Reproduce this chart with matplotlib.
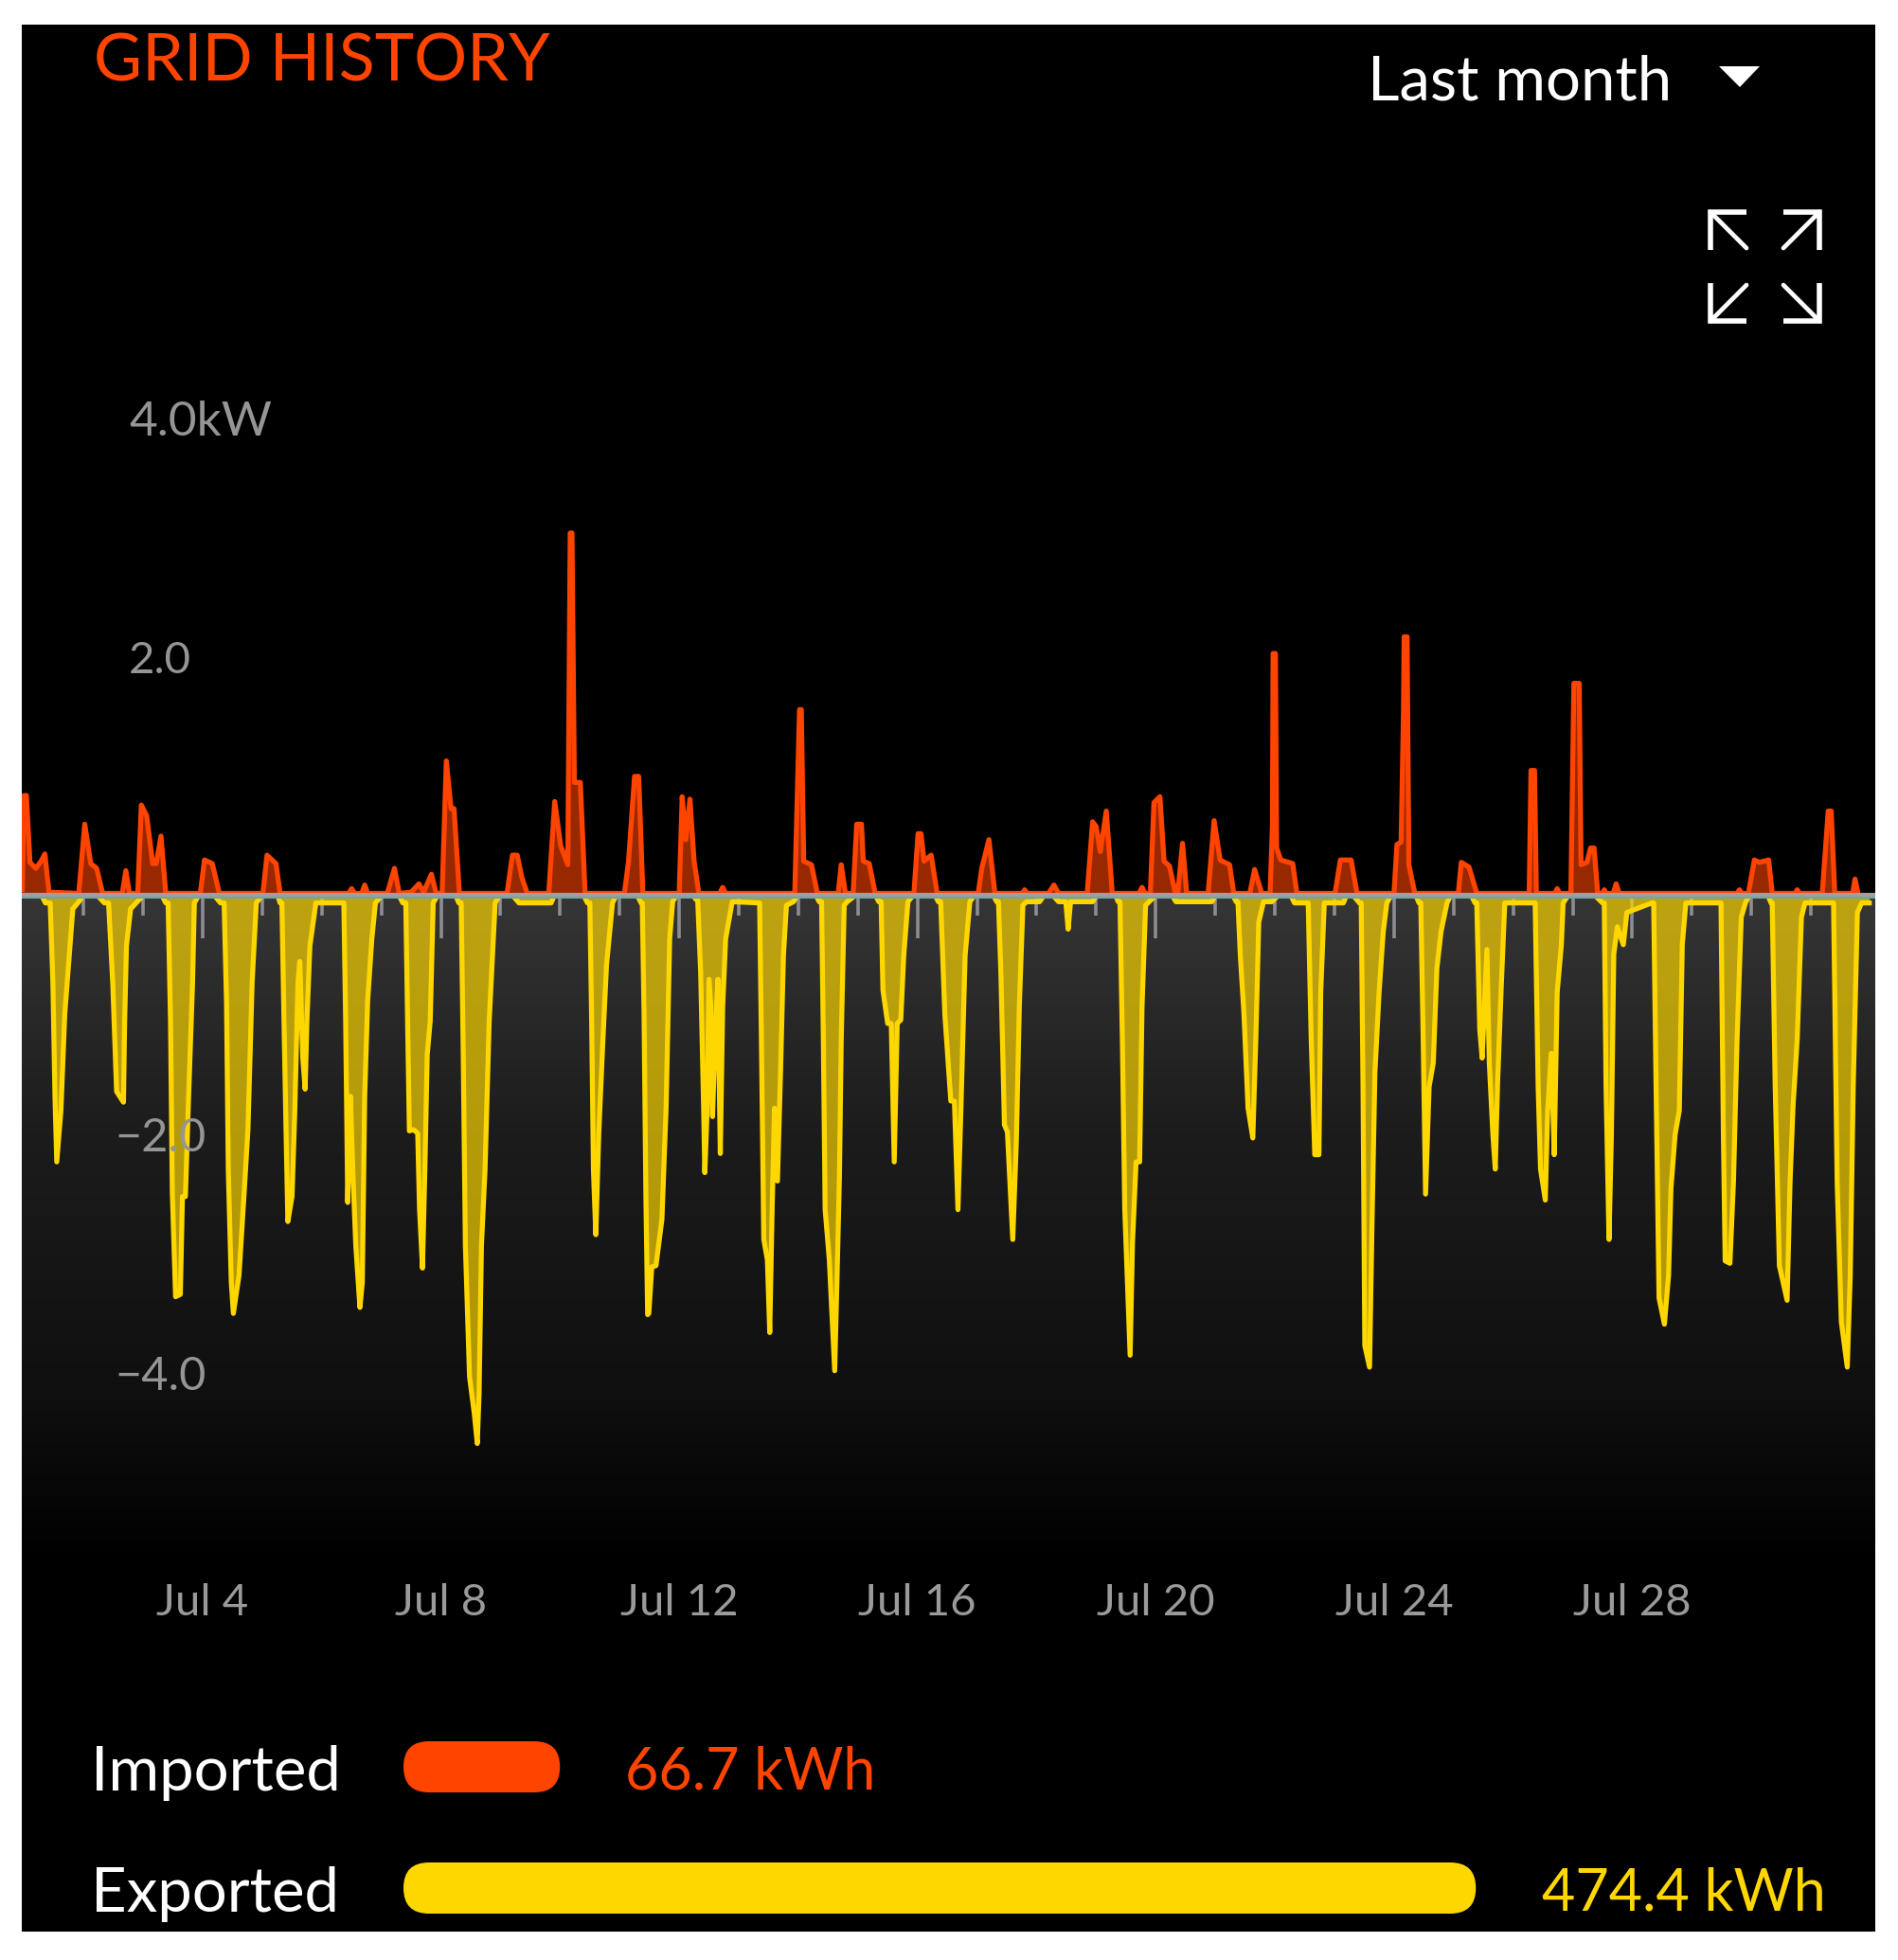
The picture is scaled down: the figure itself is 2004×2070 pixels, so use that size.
import numpy as np
import matplotlib
matplotlib.use("Agg")
import matplotlib.pyplot as plt
from matplotlib.patches import FancyBboxPatch, Polygon

plt.rcParams['font.family'] = ['Lato', 'DejaVu Sans']

# grid power over the month, day of July vs kW (negative = exported)
export_days = [
    0.97, 1.30, 1.36,
    1.44, 1.485, 1.52, 1.55, 1.62, 1.685, 1.82, 1.92,
    1.99, 2.24, 2.35,
    2.42, 2.49, 2.555, 2.67, 2.69, 2.72, 2.79, 2.92,
    3.00, 3.32, 3.38,
    3.42, 3.46, 3.49, 3.545, 3.625, 3.66, 3.71, 3.76, 3.83, 3.86,
    3.93, 4.20, 4.30,
    4.36, 4.40, 4.43, 4.48, 4.515, 4.61, 4.70, 4.76, 4.83, 4.90,
    4.99, 5.26, 5.30,
    5.33, 5.365, 5.40, 5.43, 5.50, 5.545, 5.60, 5.63, 5.68, 5.72, 5.75, 5.80, 5.90,
    6.33,
    6.37, 6.40, 6.435, 6.48, 6.52, 6.57, 6.64, 6.68, 6.72, 6.77, 6.84, 6.90,
    7.00, 7.30, 7.36,
    7.41, 7.44, 7.47, 7.54, 7.61, 7.64, 7.69, 7.73, 7.77, 7.82, 7.87,
    7.94, 8.25, 8.30,
    8.34, 8.375, 8.41, 8.48, 8.56, 8.61, 8.64, 8.68, 8.74, 8.81, 8.91,
    8.98, 9.21, 9.31, 9.85,
    9.90, 10.40, 10.46,
    10.50, 10.53, 10.56, 10.60, 10.65, 10.72, 10.78, 10.88,
    10.94, 11.30, 11.36,
    11.38, 11.41, 11.44, 11.47, 11.49, 11.54, 11.61, 11.71, 11.78, 11.84, 11.89,
    11.95, 12.24, 12.28,
    12.31, 12.36, 12.41, 12.43, 12.47, 12.50, 12.53, 12.56, 12.60, 12.65, 12.67, 12.69, 12.73, 12.78, 12.89,
    13.32,
    13.35, 13.38, 13.42, 13.48, 13.52, 13.56, 13.60, 13.65, 13.70, 13.75, 13.80, 13.92,
    13.98, 14.30, 14.35,
    14.39, 14.42, 14.45, 14.52, 14.61, 14.65, 14.69, 14.72, 14.77, 14.82,
    14.95, 15.30, 15.35,
    15.39, 15.42, 15.50, 15.56, 15.61, 15.66, 15.72, 15.77, 15.84,
    15.92, 16.30, 16.35,
    16.39, 16.46, 16.56, 16.62, 16.68, 16.73, 16.80, 16.88,
    16.95, 17.28, 17.33,
    17.36, 17.40, 17.46, 17.51, 17.60, 17.66, 17.71, 17.77, 17.83,
    18.05, 18.12, 18.28, 18.37,
    18.49, 18.53, 18.57, 18.94,
    19.00, 19.33, 19.37,
    19.40, 19.44, 19.48, 19.57, 19.61, 19.67, 19.73, 19.77, 19.83, 19.91,
    20.00, 20.28, 20.34, 20.94,
    21.00, 21.30, 21.35,
    21.38, 21.42, 21.48, 21.55, 21.63, 21.68, 21.73, 21.81,
    21.95, 22.05, 22.27, 22.33, 22.53,
    22.56, 22.61, 22.67, 22.74, 22.77, 22.83,
    23.15, 23.20, 23.32, 23.42,
    23.45, 23.48, 23.51, 23.59, 23.63, 23.68, 23.75, 23.82, 23.88,
    23.95, 24.37, 24.42,
    24.45, 24.49, 24.53, 24.59, 24.66, 24.72, 24.79, 24.89,
    24.95, 25.30, 25.36,
    25.39, 25.44, 25.48, 25.56, 25.60, 25.66, 25.70, 25.74, 25.80, 25.86,
    26.34,
    26.37, 26.42, 26.46, 26.54, 26.58, 26.64, 26.69, 26.74, 26.81, 26.84,
    26.92, 27.38, 27.50,
    27.53, 27.56, 27.61, 27.65, 27.69, 27.75, 27.85, 27.91,
    28.33,
    28.36, 28.40, 28.45, 28.54, 28.61, 28.65, 28.72, 28.79, 28.84, 28.90,
    29.46,
    29.49, 29.53, 29.56, 29.64, 29.70, 29.76, 29.83, 29.90,
    29.96, 30.28, 30.33,
    30.35, 30.40, 30.47, 30.60, 30.65, 30.70, 30.77, 30.84, 30.90,
    31.34,
    31.38, 31.44, 31.51, 31.61, 31.66, 31.71, 31.78, 31.85, 31.98,
]
export_kw = [
    0, 0, -.06,
    -.06, -.73, -1.68, -2.23, -1.80, -.99, -.11, -.05,
    0, 0, -.06,
    -.06, -.73, -1.64, -1.73, -1.05, -.42, -.11, -.04,
    0, 0, -.06,
    -.06, -1.05, -2.49, -3.36, -3.34, -2.52, -2.52, -1.74, -.73, -.06,
    0, 0, -.06,
    -.06, -.89, -2.30, -3.24, -3.50, -3.18, -2.46, -1.96, -.73, -.06,
    0, 0, -.06,
    -.06, -1.05, -1.99, -2.73, -2.52, -1.83, -.73, -.55, -1.36, -1.62, -1.05, -.42, -.06,
    -.06,
    -.06, -1.05, -2.57, -1.68, -2.30, -2.93, -3.45, -3.24, -1.68, -.88, -.36, -.06,
    0, 0, -.06,
    -.06, -1.05, -1.97, -1.96, -1.99, -2.62, -3.12, -2.30, -1.33, -1.05, -.06,
    0, 0, -.06,
    -.06, -1.36, -2.93, -4.03, -4.34, -4.59, -4.18, -2.93, -2.30, -1.05, -.06,
    0, 0, -.06, -.06,
    0, 0, -.06,
    -.06, -1.05, -2.30, -2.84, -1.99, -1.20, -.58, -.06,
    0, 0, -.06,
    -.06, -1.00, -2.50, -3.51, -3.50, -3.11, -3.10, -2.71, -1.78, -.36, -.05,
    0, 0, -.03,
    -.03, -.64, -1.78, -2.32, -1.78, -.70, -.93, -1.85, -1.21, -.70, -1.50, -2.16, -.93, -.36, -.05,
    -.06,
    -.06, -1.21, -2.88, -3.05, -3.66, -2.63, -1.78, -2.39, -1.50, -.50, -.08, -.05,
    0, 0, -.05,
    -.05, -1.21, -2.63, -3.05, -3.98, -3.20, -2.35, -1.21, -.08, -.05,
    0, 0, -.05,
    -.05, -.79, -1.07, -1.07, -2.23, -1.07, -1.04, -.50, -.05,
    0, 0, -.05,
    -.05, -1.00, -1.72, -1.72, -2.63, -1.78, -.50, -.05,
    0, 0, -.05,
    -.05, -.64, -1.92, -1.98, -2.88, -2.06, -.93, -.08, -.05,
    -.05, 0, 0, -.05,
    -.05, -.28, -.05, -.05,
    0, 0, -.05,
    -.05, -1.21, -2.63, -3.85, -2.91, -2.23, -2.23, -.93, -.08, -.04,
    0, 0, -.05, -.05,
    0, 0, -.05,
    -.05, -.50, -.98, -1.78, -2.03, -1.21, -.22, -.05,
    -.05, 0, 0, -.06, -.06,
    -.06, -1.20, -2.17, -2.17, -.81, -.06,
    -.06, 0, 0, -.06,
    -.06, -1.60, -3.77, -3.95, -2.78, -1.48, -.81, -.30, -.06,
    0, 0, -.06,
    -.06, -1.20, -2.50, -1.60, -1.40, -.61, -.30, -.06,
    0, 0, -.06,
    -.06, -1.12, -1.36, -.45, -1.40, -2.00, -2.29, -1.56, -.77, -.06,
    -.06,
    -.06, -1.60, -2.29, -2.55, -1.80, -1.32, -2.17, -.81, -.41, -.06,
    0, 0, -.06,
    -.06, -1.60, -2.88, -2.00, -.49, -.26, -.41, -.14,
    -.06,
    -.06, -1.60, -3.37, -3.59, -3.18, -2.45, -2.00, -1.80, -.41, -.06,
    -.06,
    -.06, -2.00, -3.06, -3.08, -2.39, -1.20, -.18, -.06,
    0, 0, -.06,
    -.06, -1.60, -3.10, -3.39, -2.39, -1.76, -1.20, -.18, -.06,
    -.06,
    -.06, -2.40, -3.57, -3.95, -3.18, -1.60, -.14, -.06, -.06,
]

import_days = [
    0.97, 1.00, 1.04, 1.10, 1.20, 1.30, 1.35, 1.42,
    1.92, 2.02, 2.12, 2.22, 2.32,
    2.65, 2.71, 2.77,
    2.91, 2.97, 3.06, 3.16, 3.22, 3.30, 3.38,
    3.96, 4.03, 4.16, 4.28,
    5.01, 5.08, 5.23, 5.30,
    6.45, 6.50, 6.55, 6.67, 6.72, 6.77,
    7.10, 7.22, 7.30,
    7.50, 7.63, 7.71, 7.84, 7.92,
    8.02, 8.09, 8.17, 8.22, 8.31,
    9.11, 9.20, 9.28, 9.36, 9.45,
    9.81, 9.91, 10.01, 10.13, 10.17, 10.20, 10.24, 10.34, 10.42,
    11.08, 11.15, 11.25, 11.32, 11.39,
    12.00, 12.05, 12.11, 12.18, 12.25, 12.33,
    12.68, 12.73, 12.78,
    13.94, 14.02, 14.05, 14.09, 14.22, 14.32,
    14.67, 14.72, 14.79,
    14.92, 14.98, 15.06, 15.09, 15.19, 15.29,
    15.94, 16.01, 16.06, 16.11, 16.23, 16.33,
    17.02, 17.08, 17.20, 17.30,
    17.76, 17.80, 17.84,
    18.20, 18.29, 18.37,
    18.85, 18.94, 19.00, 19.07, 19.17, 19.27,
    19.72, 19.77, 19.82,
    19.91, 19.97, 20.07, 20.14, 20.23, 20.33, 20.37, 20.45, 20.52,
    20.88, 20.98, 21.08, 21.24, 21.31,
    21.58, 21.66, 21.78,
    21.92, 21.96, 21.97, 22.01, 22.03, 22.10, 22.30, 22.37,
    23.01, 23.10, 23.28, 23.38,
    24.00, 24.05, 24.12, 24.16, 24.17, 24.22, 24.25, 24.35,
    25.08, 25.13, 25.26, 25.39,
    26.27, 26.30, 26.36, 26.39,
    26.70, 26.74, 26.78,
    26.97, 27.02, 27.11, 27.14, 27.24, 27.30, 27.36, 27.42,
    27.50, 27.53, 27.56, 27.68, 27.73, 27.78,
    29.76, 29.80, 29.84,
    29.95, 30.05, 30.13, 30.29, 30.35,
    30.73, 30.77, 30.81,
    31.19, 31.24, 31.29, 31.34, 31.40,
    31.70, 31.74, 31.79,
]
import_kw = [
    .05, .84, .84, .28, .23, .30, .35, .03,
    .02, .60, .27, .23, .02,
    .02, .21, .02,
    .02, .76, .67, .27, .27, .50, .02,
    .02, .30, .27, .02,
    .02, .34, .27, .02,
    .02, .06, .02, .02, .09, .02,
    .02, .23, .02,
    .03, .10, .03, .18, .02,
    .02, 1.13, .73, .73, .02,
    .02, .34, .34, .15, .02,
    .02, .79, .42, .26, 3.04, 3.04, .95, .95, .02,
    .02, .29, 1.00, 1.00, .02,
    .02, .83, .47, .81, .29, .02,
    .02, .07, .02,
    .02, 1.56, 1.56, .29, .26, .02,
    .02, .26, .02,
    .02, .60, .60, .29, .27, .02,
    .02, .52, .52, .29, .34, .02,
    .02, .23, .47, .02,
    .02, .05, .02,
    .02, .09, .02,
    .02, .62, .58, .37, .71, .02,
    .02, .07, .02,
    .02, .78, .83, .29, .25, .02, .02, .44, .02,
    .02, .63, .30, .26, .02,
    .02, .22, .02,
    .02, .60, 2.03, 2.03, .40, .30, .27, .02,
    .02, .30, .30, .02,
    .02, .43, .45, 1.55, 2.17, 2.17, .26, .02,
    .02, .28, .24, .02,
    .02, 1.05, 1.05, .02,
    .02, .06, .02,
    .02, 1.78, 1.78, .26, .28, .40, .40, .02,
    .02, .05, .02, .02, .10, .02,
    .02, .05, .02,
    .02, .30, .28, .30, .02,
    .02, .05, .02,
    .02, .37, .71, .71, .02,
    .02, .14, .02,
]

day_ticks = list(range(2, 32))
label_days = [4, 8, 12, 16, 20, 24, 28]
date_labels = ['Jul 4', 'Jul 8', 'Jul 12', 'Jul 16', 'Jul 20', 'Jul 24', 'Jul 28']
y_values = [4, 2, -2, -4]
y_labels = ['4.0kW', '2.0', '\u22122.0', '\u22124.0']

totals_names = ['Imported', 'Exported']
totals_kwh = [66.7, 474.4]
totals_text = ['66.7 kWh', '474.4 kWh']

ORANGE = '#ff4400'
YELLOW = '#ffd700'
W, H = 2004, 2070
PANEL = (23, 26, 1980, 2040)  # left, top, right, bottom in pixels
XLIM = (0.963, 32.08)
YLIM = (-8.68, 7.30)

fig = plt.figure(figsize=(W / 100, H / 100), dpi=100, facecolor='white')
ax = fig.add_axes([PANEL[0] / W, 1 - PANEL[3] / H,
                   (PANEL[2] - PANEL[0]) / W, (PANEL[3] - PANEL[1]) / H])
ax.set_facecolor('black')

# soft grey glow under the zero line
shade = np.interp(np.linspace(0, 1, 200), [0, .35, .75, 1], [.21, .11, .06, 0])
ax.imshow(shade[:, None], extent=[XLIM[0], XLIM[1], -5.6, 0], aspect='auto', cmap='gray',
          vmin=0, vmax=1, zorder=1, interpolation='bilinear')
ax.set_xlim(*XLIM)
ax.set_ylim(*YLIM)
ax.set_xticks([])
ax.set_yticks([])
for s in ax.spines.values():
    s.set_visible(False)

# day ticks, longer every 4 days
tick_ends = [-.36 if d in label_days else -.17 for d in day_ticks]
ax.vlines(day_ticks, tick_ends, 0, color='#8c8c92', lw=2.6, zorder=2)

ax.fill_between(export_days, export_kw, 0, color=YELLOW, alpha=.68, lw=0, zorder=3)
ax.plot(export_days, export_kw, color=YELLOW, lw=3.8, solid_joinstyle='round', zorder=4)
ax.fill_between(import_days, import_kw, 0, color=ORANGE, alpha=.6, lw=0, zorder=3)
ax.plot(import_days, import_kw, color=ORANGE, lw=3.8, solid_joinstyle='round', zorder=4)

ax.axhline(0.005, color='#a89c98', lw=3, zorder=5)
ax.axhline(-0.012, color='#6aa8a8', lw=1.5, zorder=5)

for d, lab in zip(label_days, date_labels):
    ax.text(d, -5.93, lab, color='#9a9a9a', fontsize=34, ha='center', va='center', zorder=6)
for v, lab in zip(y_values, y_labels):
    ax.text(4 - (214 - (136 if v > 0 else 121)) / 62.9, v - .03, lab, color='#959595',
            fontsize=37 if v == 4 else (34 if v > 0 else 35), ha='left', va='center', zorder=6)

# overlay in pixel coordinates for the header and the totals
ov = fig.add_axes([0, 0, 1, 1])
ov.set_xlim(0, W)
ov.set_ylim(H, 0)
ov.axis('off')
ov.patch.set_alpha(0)

ov.text(99, 66, 'GRID HISTORY', color=ORANGE, fontsize=50.5, ha='left', va='center')
ov.text(1444, 87, 'Last month', color='white', fontsize=47, ha='left', va='center')
ov.add_patch(Polygon([(1815, 70), (1858, 70), (1837, 92)], color='white', lw=0))

# expand icon
for cx, cy, sx, sy in [(1806, 224, 1, 1), (1921, 224, -1, 1), (1806, 339, 1, -1), (1921, 339, -1, -1)]:
    ov.plot([cx + 38 * sx, cx, cx], [cy, cy, cy + 40 * sy], color='white', lw=4,
            solid_joinstyle='miter', solid_capstyle='butt')
    ov.plot([cx, cx + 38 * sx], [cy, cy + 38 * sy], color='white', lw=3.4, solid_capstyle='round')

# totals
for name, kwh, txt, col, yc in zip(totals_names, totals_kwh, totals_text, [ORANGE, YELLOW], [1866, 1994]):
    ov.text(96, yc + 6, name, color='white', fontsize=47, ha='left', va='center')
    width = 7 + 2.372 * kwh
    ov.add_patch(FancyBboxPatch((426, yc - 27), width, 54,
                                boxstyle='round,pad=0,rounding_size=27', fc=col, ec=col, lw=0))
    tx = 660 if kwh < 100 else 1628
    ov.text(tx, yc + 6, txt, color=col, fontsize=44, ha='left', va='center')

fig.savefig('out.png', dpi=100, facecolor='white')
